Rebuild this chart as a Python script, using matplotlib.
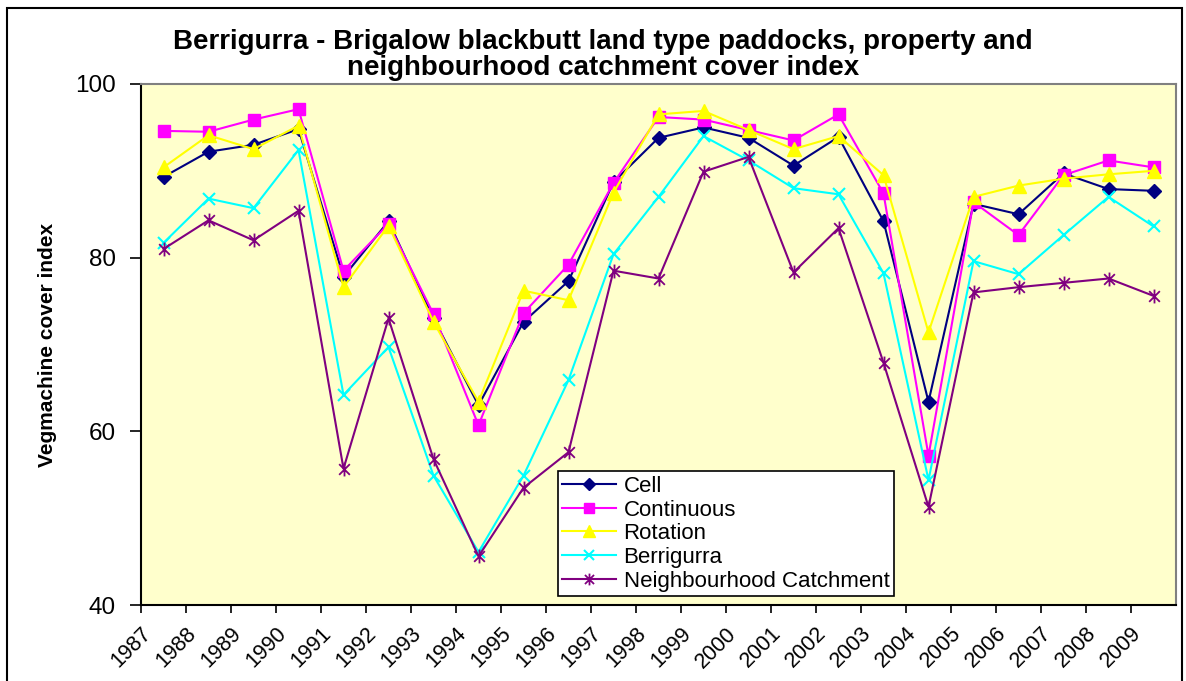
import matplotlib
matplotlib.use("Agg")
import matplotlib.pyplot as plt
from matplotlib.path import Path
from matplotlib.patches import Rectangle
import numpy as np

years = [str(y) for y in range(1987, 2010)]

cell = [89.3, 92.2, 93.0, 94.8, 77.8, 84.2, 73.0, 63.0, 72.6, 77.3, 88.7, 93.8,
        95.0, 93.8, 90.6, 93.9, 84.2, 63.4, 86.2, 85.0, 89.7, 87.9, 87.7]
continuous = [94.6, 94.5, 95.9, 97.1, 78.5, 83.9, 73.5, 60.7, 73.6, 79.2, 88.6, 96.2,
              95.9, 94.7, 93.5, 96.5, 87.4, 57.2, 86.4, 82.6, 89.5, 91.2, 90.4]
rotation = [90.4, 94.1, 92.5, 95.2, 76.6, 83.7, 72.6, 63.4, 76.2, 75.1, 87.5, 96.5,
            96.9, 94.7, 92.5, 94.0, 89.5, 71.4, 87.0, 88.3, 89.1, 89.6, 90.0]
berrigurra = [81.7, 86.8, 85.7, 92.4, 64.2, 69.7, 54.9, 46.1, 54.9, 65.9, 80.4, 87.0,
              94.0, 91.2, 88.0, 87.3, 78.2, 54.4, 79.6, 78.1, 82.6, 87.0, 83.6]
neighbourhood = [81.0, 84.3, 82.0, 85.4, 55.7, 73.0, 56.8, 45.6, 53.5, 57.6, 78.5, 77.6,
                 89.9, 91.6, 78.3, 83.4, 67.9, 51.3, 76.0, 76.6, 77.1, 77.6, 75.6]

# asterisk marker like excel: x plus a vertical bar
star = Path([(-1, -1), (1, 1), (-1, 1), (1, -1), (0, -1.3), (0, 1.3)],
            [Path.MOVETO, Path.LINETO, Path.MOVETO, Path.LINETO, Path.MOVETO, Path.LINETO])

plt.rcParams['font.family'] = ['Liberation Sans', 'DejaVu Sans']

W, H = 1186, 681
fig = plt.figure(figsize=(W / 100, H / 100), dpi=100)
ax = fig.add_axes([141 / W, 1 - 605 / H, (1176 - 141) / W, (605 - 84) / H])
ax.set_facecolor('#FFFFCC')

x = np.arange(len(years)) + 0.5
ax.plot(x, cell, color='#000080', lw=1.5, marker='D', ms=7, label='Cell')
ax.plot(x, continuous, color='#FF00FF', lw=1.5, marker='s', ms=8, label='Continuous')
ax.plot(x, rotation, color='#FFFF00', lw=1.5, marker='^', ms=10, label='Rotation')
ax.plot(x, berrigurra, color='#00FFFF', lw=1.5, marker='x', ms=9, mew=1.5, label='Berrigurra')
ax.plot(x, neighbourhood, color='#800080', lw=1.5, marker=star, ms=10, mew=1.3,
        label='Neighbourhood Catchment')

ax.set_xlim(0, len(years))
ax.set_ylim(40, 100)
ax.set_yticks([40, 60, 80, 100])
ax.set_xticks(np.arange(len(years)))
ax.set_xticklabels(years, rotation=45, ha='right', va='top', rotation_mode='anchor')
ax.tick_params(axis='y', direction='out', length=8, width=1.2, labelsize=17.5, pad=10)
ax.tick_params(axis='x', direction='out', length=6, width=1.2, labelsize=15.5, pad=7)

for side in ['top', 'right']:
    ax.spines[side].set_color('#808080')
    ax.spines[side].set_linewidth(1.5)
for side in ['left', 'bottom']:
    ax.spines[side].set_color('black')
    ax.spines[side].set_linewidth(1.5)

ax.set_ylabel('Vegmachine cover index', fontsize=15, fontweight='bold')
ax.yaxis.set_label_coords(-84 / (1176 - 141), 0.5)

fig.text(603 / W, 1 - 55 / H,
         'Berrigurra - Brigalow blackbutt land type paddocks, property and\n'
         'neighbourhood catchment cover index',
         ha='center', va='center', fontsize=20, fontweight='bold', linespacing=1.02)

leg = ax.legend(loc='lower left', bbox_to_anchor=((558 - 141) / (1176 - 141), (605 - 596) / (605 - 84)),
                fontsize=16, frameon=True, fancybox=False, borderpad=0.2,
                labelspacing=0.12, handlelength=2.4, handletextpad=0.35, borderaxespad=0,
                markerscale=0.85)
leg.get_frame().set_edgecolor('black')
leg.get_frame().set_linewidth(1.2)
leg.get_frame().set_facecolor('white')
leg.get_frame().set_alpha(1)

fig.patches.append(Rectangle((7 / W, -0.02), (1182 - 7) / W, 1 - 8 / H + 0.02,
                             transform=fig.transFigure, fill=False,
                             edgecolor='black', lw=1.5))

fig.savefig('out.png', dpi=100)
